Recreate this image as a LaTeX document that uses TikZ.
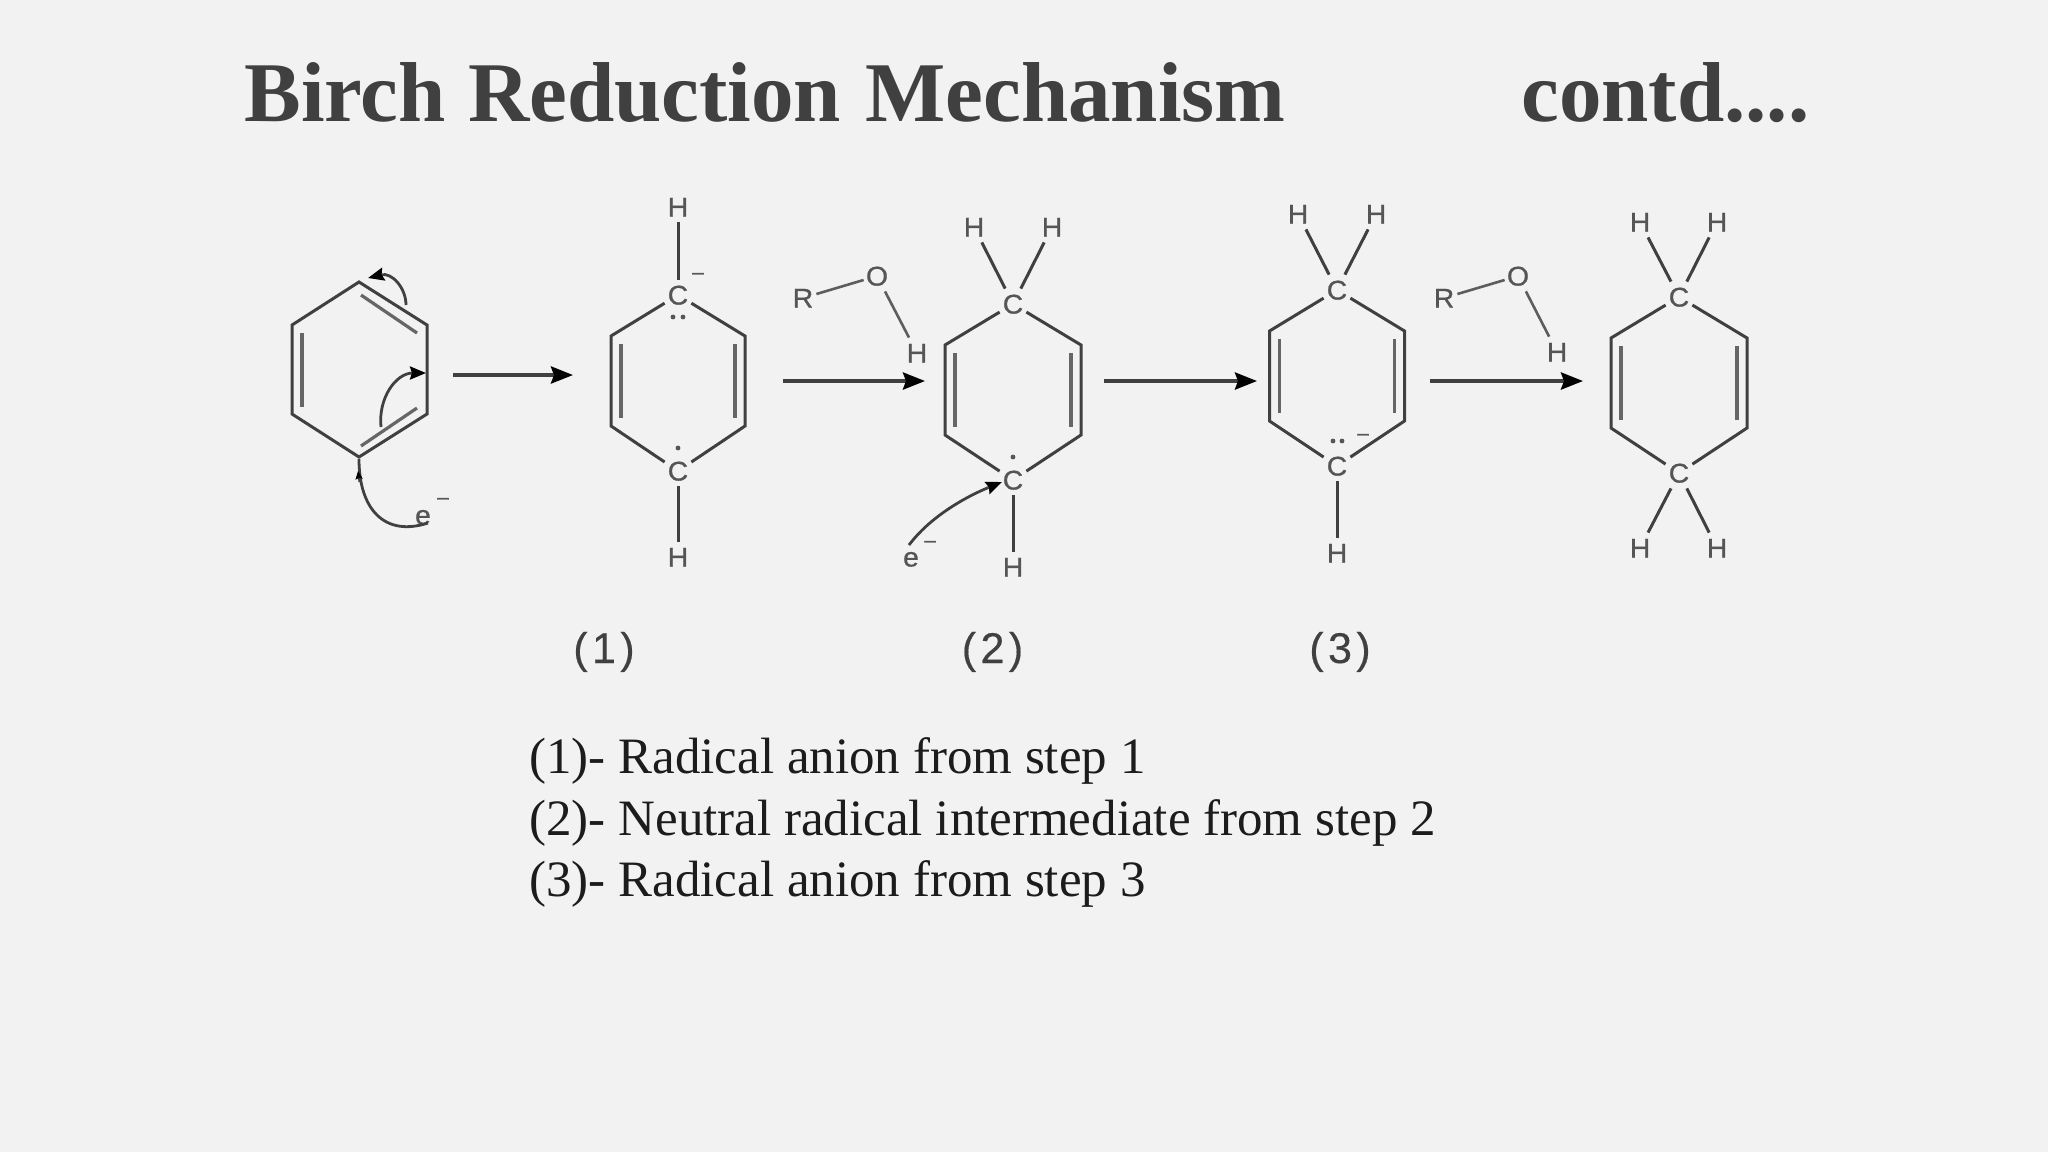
\documentclass[tikz,border=0pt]{standalone}
\usepackage{fontspec}
\setmainfont{Liberation Serif}
\newfontfamily\atomfont[FakeBold=0.8,FakeStretch=1.05]{Liberation Sans}
\newfontfamily\minusfont[FakeBold=2]{Liberation Sans}
\newfontfamily\labelfont[FakeBold=0.4]{Liberation Sans}
\usetikzlibrary{arrows.meta}
\definecolor{bgc}{HTML}{F2F2F2}
\definecolor{titlec}{HTML}{404040}
\definecolor{bondc}{HTML}{404040}
\definecolor{innerc}{HTML}{666666}
\definecolor{atomc}{HTML}{555555}
\definecolor{listc}{HTML}{1C1C1C}
\tikzset{
  x=0.5pt,y=-0.5pt,
  bond/.style={draw=bondc,line width=1.5pt,line join=miter},
  innerbond/.style={draw=innerc,line width=1.6pt},
  thinbond/.style={draw=bondc!85!white,line width=1.3pt},
  atom/.style={font=\atomfont\fontsize{13.5}{13.5}\selectfont,text=atomc,inner sep=0pt,minimum width=13pt,minimum height=15pt,text height=9.5pt,text depth=0pt},
  minusmark/.style={font=\minusfont\fontsize{10}{10}\selectfont,text=atomc,inner sep=0pt},
  rarrow/.style={draw=bondc,line width=1.9pt,-{Stealth[length=11pt,width=8.5pt,inset=1.5pt,black]}},
  curvearrow/.style={draw=bondc,line width=1.4pt,-{Stealth[length=8pt,width=6.5pt,inset=1pt,black]}},
  curveline/.style={draw=bondc,line width=1.4pt},
  smallhead/.style={draw=bondc,line width=1pt,-{Stealth[length=4pt,width=3.5pt,inset=0.5pt,black]}},
  elecdot/.style={circle,fill=atomc,inner sep=0pt,minimum size=2.4pt},
  titletext/.style={font=\fontsize{42.5}{42.5}\selectfont\bfseries,text=titlec,anchor=base west,inner sep=0pt},
  steplabel/.style={font=\labelfont\fontsize{21.5}{21.5}\selectfont,text=bondc,inner sep=0pt,anchor=base},
  listtext/.style={font=\fontsize{25.5}{25.5}\selectfont,text=listc,anchor=base west,inner sep=0pt},
}
% #1 name, #2 centre x, #3 y of upper C, #4 half width, #5 inner offset
\newcommand{\ringmol}[5]{%
  \node[atom] (#1ct) at (#2,#3) {C};
  \node[atom] (#1cb) at (#2,#3+176) {C};
  \coordinate (#1ul) at (#2-#4,#3+41);
  \coordinate (#1ll) at (#2-#4,#3+131);
  \coordinate (#1ur) at (#2+#4,#3+41);
  \coordinate (#1lr) at (#2+#4,#3+131);
  \coordinate (#1ia) at (#2-#4+#5,#3+49);
  \coordinate (#1ib) at (#2-#4+#5,#3+123);
  \coordinate (#1ic) at (#2+#4-#5,#3+49);
  \coordinate (#1id) at (#2+#4-#5,#3+123);
  \draw[bond] (#1ct) -- (#1ul) -- (#1ll) -- (#1cb);
  \draw[bond] (#1ct) -- (#1ur) -- (#1lr) -- (#1cb);
  \draw[innerbond] (#1ia) -- (#1ib);
  \draw[innerbond] (#1ic) -- (#1id);
}
\newcommand{\spaced}[3]{#1\kern2.2pt #2\kern2.2pt #3}
\begin{document}
\begin{tikzpicture}
\useasboundingbox[fill=bgc] (0,0) rectangle (2048,1152);
% title
\node[titletext] (title) at (244,121.5) {Birch\kern0.5pt{} Reduction\kern1.5pt{} Mechanism};
\node[titletext] (contd) at (1521,121.5) {contd....};
% molecule A
\coordinate (at) at (359,282);
\coordinate (aur) at (427,325);
\coordinate (alr) at (427,414);
\coordinate (ab) at (359,457);
\coordinate (all) at (292,414);
\coordinate (aul) at (292,325);
\draw[bond] (at) -- (aur) -- (alr) -- (ab) -- (all) -- (aul) -- cycle;
\coordinate (aia) at (361,295);
\coordinate (aib) at (417,333);
\coordinate (aic) at (302,333);
\coordinate (aid) at (302,407);
\coordinate (aie) at (361,446);
\coordinate (aif) at (417,408);
\draw[innerbond] (aia) -- (aib);
\draw[innerbond] (aic) -- (aid);
\draw[innerbond] (aie) -- (aif);
\coordinate (cs1) at (406,305);
\coordinate (ce1) at (368,278);
\draw[curvearrow] (cs1) .. controls (406,288) and (392,272) .. (ce1);
\coordinate (cs2) at (381,427);
\coordinate (ce2) at (426,373);
\draw[curvearrow] (cs2) .. controls (378,398) and (396,373) .. (ce2);
\node[atom,minimum width=8pt,minimum height=10pt,text height=6.5pt] (ae) at (423,518) {e};
\node[minusmark] (am) at (443,501) {–};
\coordinate (ce3) at (359,459);
\coordinate (ce3a) at (359.5,482);
\coordinate (ce3b) at (358,471);
\coordinate (ce3s) at (428,523);
\draw[curveline] (ce3s) .. controls (385,537) and (359,510) .. (ce3);
\draw[smallhead] (ce3a) -- (ce3b);
% molecule 1
\ringmol{b}{678}{295}{67}{10}
\node[atom] (bh1) at (678,207) {H};
\node[atom] (bh2) at (678,557) {H};
\draw[bond] (bct) -- (bh1);
\draw[bond] (bcb) -- (bh2);
\node[minusmark] (bm) at (698,276) {–};
\node[elecdot] (bd1) at (673,317) {};
\node[elecdot] (bd2) at (683,317) {};
\node[elecdot] (bd3) at (678,448) {};
% molecule 2
\ringmol{c}{1013}{304}{68}{10}
\node[atom] (ch1) at (974,227) {H};
\node[atom] (ch2) at (1052,227) {H};
\node[atom] (ch3) at (1013,567) {H};
\draw[bond] (cct) -- (ch1);
\draw[bond] (cct) -- (ch2);
\draw[bond] (ccb) -- (ch3);
\node[elecdot] (cd) at (1013,457) {};
\node[atom,minimum width=8pt,minimum height=10pt,text height=6.5pt] (ce) at (911,560) {e};
\node[minusmark] (cm) at (930,544) {–};
\coordinate (cas) at (909,545);
\coordinate (cae) at (1002,482);
\draw[curvearrow] (cas) .. controls (930,517) and (965,497) .. (cae);
% molecule 3
\ringmol{d}{1337}{290}{67.5}{10}
\node[atom] (dh1) at (1298,214) {H};
\node[atom] (dh2) at (1376,214) {H};
\node[atom] (dh3) at (1337,553) {H};
\draw[bond] (dct) -- (dh1);
\draw[bond] (dct) -- (dh2);
\draw[bond] (dcb) -- (dh3);
\node[elecdot] (dd1) at (1333,441) {};
\node[elecdot] (dd2) at (1342,441) {};
\node[minusmark] (dm) at (1363,437) {–};
% molecule 4
\ringmol{e}{1679}{297}{68}{10}
\node[atom] (eh1) at (1640,222) {H};
\node[atom] (eh2) at (1717,222) {H};
\node[atom] (eh3) at (1640,548) {H};
\node[atom] (eh4) at (1717,548) {H};
\draw[bond] (ect) -- (eh1);
\draw[bond] (ect) -- (eh2);
\draw[bond] (ecb) -- (eh3);
\draw[bond] (ecb) -- (eh4);
% R-O-H
\node[atom] (ra) at (803,298) {R};
\node[atom] (oa) at (877,276) {O};
\node[atom] (ha) at (917,353) {H};
\draw[thinbond] (ra) -- (oa);
\draw[thinbond] (oa) -- (ha);
\node[atom] (rb) at (1444,298) {R};
\node[atom] (ob) at (1518,276) {O};
\node[atom] (hb) at (1557,352) {H};
\draw[thinbond] (rb) -- (ob);
\draw[thinbond] (ob) -- (hb);
% reaction arrows
\coordinate (r1a) at (453,375); \coordinate (r1b) at (573,375);
\coordinate (r2a) at (783,381); \coordinate (r2b) at (925,381);
\coordinate (r3a) at (1104,381); \coordinate (r3b) at (1257,381);
\coordinate (r4a) at (1430,381); \coordinate (r4b) at (1583,381);
\draw[rarrow] (r1a) -- (r1b);
\draw[rarrow] (r2a) -- (r2b);
\draw[rarrow] (r3a) -- (r3b);
\draw[rarrow] (r4a) -- (r4b);
% step labels
\node[steplabel] (l1) at (604,663) {\spaced{(}{1}{)}};
\node[steplabel] (l2) at (992.5,663) {\spaced{(}{2}{)}};
\node[steplabel] (l3) at (1340,663) {\spaced{(}{3}{)}};
% list
\node[listtext] (t1) at (529,773) {(1)- Radical anion from step 1};
\node[listtext] (t2) at (529,835) {(2)- Neutral radical intermediate from step 2};
\node[listtext] (t3) at (529,896) {(3)- Radical anion from step 3};
\end{tikzpicture}
\end{document}
